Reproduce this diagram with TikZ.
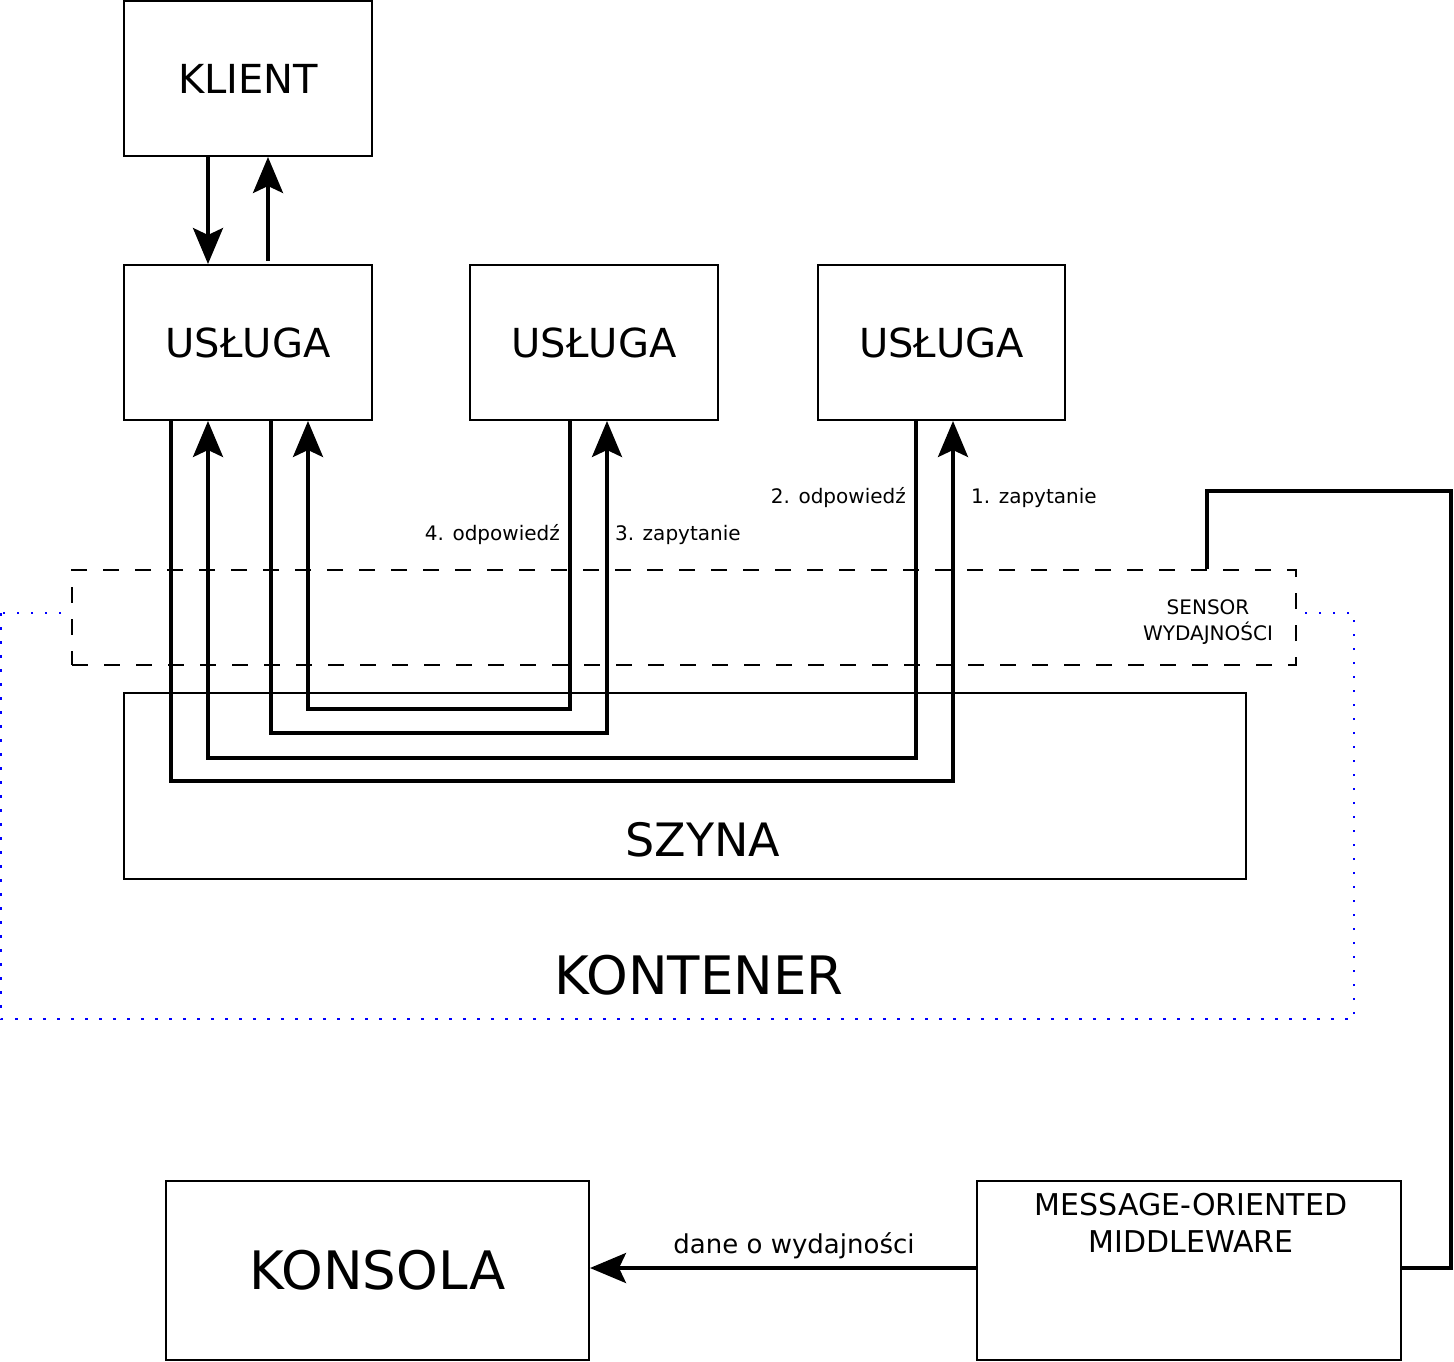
\documentclass[tikz,border=0pt]{standalone}
\usepackage{fontspec}
\setmainfont{DejaVu Sans}
\usetikzlibrary{arrows.meta}

\begin{document}
\begin{tikzpicture}[x=1pt, y=-1pt,
	blok/.style={draw, line width=2pt, inner sep=0pt},
	duzy/.style={font=\fontsize{40}{48}\selectfont},
	maly/.style={font=\fontsize{20}{26}\selectfont, inner sep=0pt},
	lin/.style={line width=3.5pt},
	strz/.style={-{Stealth[length=36pt, width=30pt, inset=7pt]}}]
	\useasboundingbox (0,0) rectangle (1454,1362);
	\draw [blue, line width=2.5pt, dash pattern=on 2.5pt off 11.5pt] (1,613) rectangle (1354,1019);
	\node [blok, dash pattern=on 16pt off 16pt, fill=white, minimum width=1224pt, minimum height=95pt] (SEN) at (684,617.5) {};
	\node [maly, align=center] (SENt) at (1208,622) {SENSOR\\WYDAJNOŚCI};
	\node [blok, duzy, minimum width=248pt, minimum height=155pt] (KL) at (248,78.5) {KLIENT};
	\node [blok, duzy, minimum width=248pt, minimum height=155pt] (U1) at (248,342.5) {USŁUGA};
	\node [blok, duzy, minimum width=248pt, minimum height=155pt] (U2) at (594,342.5) {USŁUGA};
	\node [blok, duzy, minimum width=247pt, minimum height=155pt] (U3) at (941.5,342.5) {USŁUGA};
	\node [blok, minimum width=1122pt, minimum height=186pt] (SZ) at (685,786) {};
	\node [font=\fontsize{46}{54}\selectfont] (SZt) at (703,840) {SZYNA};
	\node [font=\fontsize{53}{60}\selectfont] (KT) at (699,975) {KONTENER};
	\node [blok, font=\fontsize{53}{60}\selectfont, minimum width=423pt, minimum height=179pt] (KNS) at (377.5,1270.5) {KONSOLA};
	\node [blok, minimum width=424pt, minimum height=179pt] (MOM) at (1189,1270.5) {};
	\node [font=\fontsize{30}{37}\selectfont, align=center, inner sep=0pt] (MOMt) at (1191,1222.5) {MESSAGE-ORIENTED\\MIDDLEWARE};
	\draw [lin, strz] ([xshift=-40pt]KL.south) -- ([xshift=-40pt]U1.north);
	\draw [lin, strz] ([xshift=20pt,yshift=3pt]U1.north) -- ([xshift=20pt]KL.south);
	\draw [lin, strz] ([xshift=-77pt]U1.south) -- ++(0,360) -| ([xshift=11.5pt]U3.south);
	\draw [lin, strz] ([xshift=-25.5pt]U3.south) -- ++(0,337) -| ([xshift=-40pt]U1.south);
	\draw [lin, strz] ([xshift=23pt]U1.south) -- ++(0,312) -| ([xshift=13pt]U2.south);
	\draw [lin, strz] ([xshift=-24pt]U2.south) -- ++(0,288) -| ([xshift=60pt]U1.south);
	\node [maly, anchor=base west] (Z1) at (971,503) {1. zapytanie};
	\node [maly, anchor=base east] (O2) at (906,503) {2. odpowiedź};
	\node [maly, anchor=base west] (Z3) at (615,540) {3. zapytanie};
	\node [maly, anchor=base east] (O4) at (560,540) {4. odpowiedź};
	\draw [lin] ([xshift=523pt]SEN.north) -- ++(0,-78) -- ++(244,0) |- ([yshift=2.5pt]MOM.east);
	\draw [lin, strz] ([yshift=2.5pt]MOM.west) -- ([yshift=2.5pt]KNS.east);
	\node [font=\fontsize{26}{32}\selectfont, anchor=base, inner sep=0pt] (DW) at (794,1253) {dane o wydajności};
\end{tikzpicture}
\end{document}
